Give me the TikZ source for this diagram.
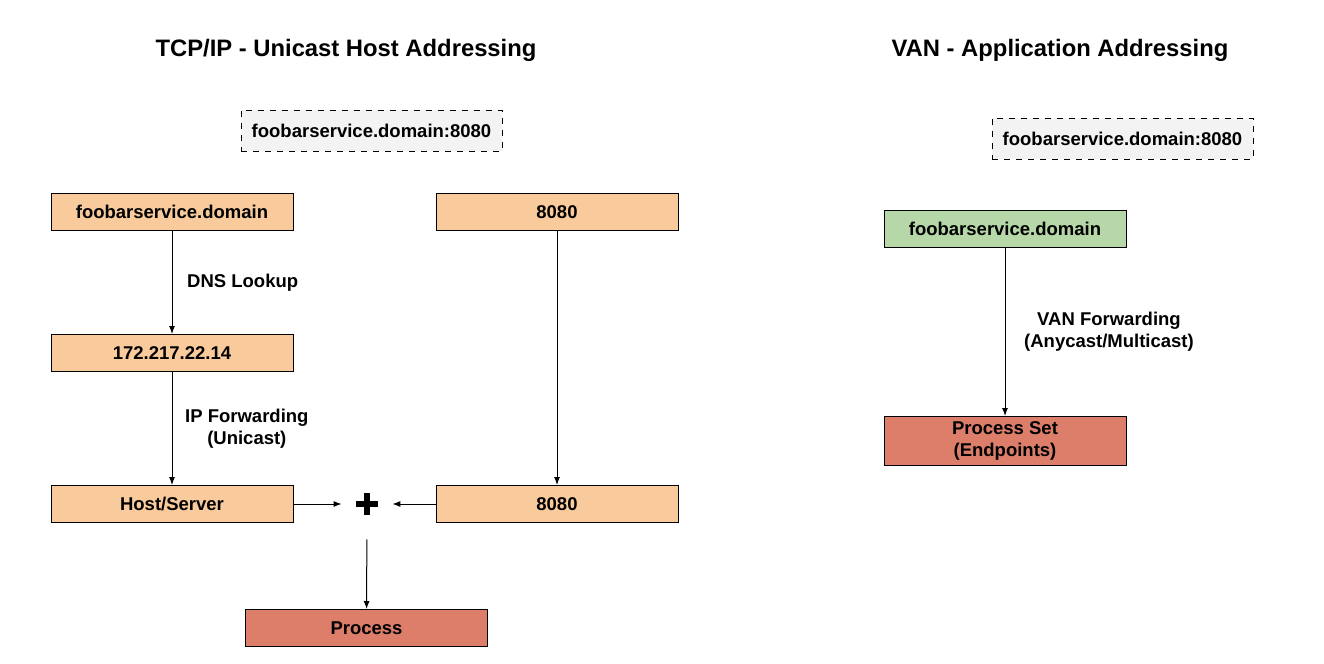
\documentclass[tikz,border=0pt]{standalone}
\usepackage{fontspec}
\setmainfont{Liberation Sans}
\usepackage{tikz}
\usetikzlibrary{positioning}
\usetikzlibrary{arrows.meta}
\definecolor{hostorange}{HTML}{F9CB9C}
\definecolor{procred}{HTML}{DD7E6B}
\definecolor{vangreen}{HTML}{B6D7A8}
\definecolor{addrgray}{HTML}{F3F3F3}

\tikzset{
	addr/.style={draw, fill=hostorange, minimum width=121pt, minimum height=18.5pt, inner sep=0pt, line width=0.5pt, align=center},
	proc/.style={addr, fill=procred},
	full/.style={draw, dashed, fill=addrgray, minimum width=130.5pt, minimum height=20.5pt, inner sep=0pt, line width=0.5pt},
	lbl/.style={align=center},
	title/.style={font=\bfseries\fontsize{11.9}{14}\selectfont},
	fwd/.style={-{Latex[length=4pt,width=3pt]}, line width=0.5pt}
}

\begin{document}
\begin{tikzpicture}[x=0.5pt, y=-0.5pt, font=\bfseries\fontsize{9.25}{11}\selectfont]
			\useasboundingbox (0, 0) rectangle (1324, 664);

			% unicast host addressing
			\node[title] (tcptitle) at (346, 50) {TCP/IP - Unicast Host Addressing};
			\node[full] (tcpfull) at (371.5, 130.5) {foobarservice.domain:8080};
			\node[addr] (domain) at (172, 212) {foobarservice.domain};
			\node[addr] (porttop) at (557, 212) {8080};
			\node[addr] (ip) at (172, 353) {172.217.22.14};
			\node[addr] (host) at (172, 504) {Host/Server};
			\node[addr] (portbot) at (557, 504) {8080};
			\node[proc] (process) at (366.5, 628) {Process};
			\node[minimum width=25pt, minimum height=35pt, inner sep=0pt] (plus) at (367, 504) {};
			\fill (plus.center) ++(-11, -3) rectangle ++(22, 6);
			\fill (plus.center) ++(-3, -11) rectangle ++(6, 22);

			\draw[fwd] (domain) -- (ip) node[lbl, midway, right=4pt] {DNS Lookup};
			\draw[fwd] (ip) -- (host) node[lbl, midway, right=3pt] {IP Forwarding\\(Unicast)};
			\draw[fwd] (porttop) -- (portbot);
			\draw[fwd] (host) -- (plus);
			\draw[fwd] (portbot) -- (plus);
			\draw[fwd] (plus) -- (process);

			% application addressing
			\node[title] (vantitle) at (1060, 50) {VAN - Application Addressing};
			\node[full] (vanfull) at (1122.5, 138.5) {foobarservice.domain:8080};
			\node[addr, fill=vangreen] (vandomain) at (1005, 229) {foobarservice.domain};
			\node[proc, minimum height=24.5pt] (procset) at (1005, 441) {Process Set\\(Endpoints)};
			\node[lbl] at (1109, 332) {VAN Forwarding\\(Anycast/Multicast)};
			\draw[fwd] (vandomain) -- (procset);
        \end{tikzpicture}
\end{document}
